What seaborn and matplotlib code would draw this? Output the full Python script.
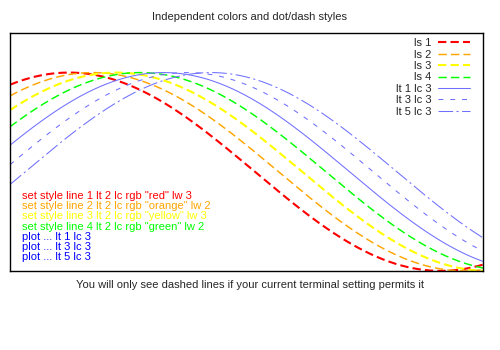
import numpy as np
import pandas as pd
import matplotlib
matplotlib.use("Agg")
import matplotlib.pyplot as plt
import seaborn as sns

# Curve definitions: y = cos(x - shift)
labels = ["ls 1", "ls 2", "ls 3", "ls 4", "lt 1 lc 3", "lt 3 lc 3", "lt 5 lc 3"]
phase_shifts = [0.0, 0.2, 0.4, 0.6, 0.8, 1.0, 1.2]
line_colors = ["#ff0000", "#ffa500", "#ffff00", "#00ff00", "#6f6fff", "#6f6fff", "#6f6fff"]
line_widths = [1.5, 1.05, 1.5, 1.05, 0.75, 0.75, 0.75]
dash_styles = [
    (0, (6.0, 3.0)),
    (0, (6.0, 3.0)),
    (0, (6.0, 3.0)),
    (0, (6.0, 3.0)),
    "solid",
    (0, (3.5, 5.0)),
    (0, (10.5, 2.5, 1.5, 2.5)),
]

x_range = (-0.5, 3.5)
y_range = (-1.0, 1.4)

note_lines = [
    'set style line 1 lt 2 lc rgb "red" lw 3',
    'set style line 2 lt 2 lc rgb "orange" lw 2',
    'set style line 3 lt 2 lc rgb "yellow" lw 3',
    'set style line 4 lt 2 lc rgb "green" lw 2',
    "plot ... lt 1 lc 3",
    "plot ... lt 3 lc 3",
    "plot ... lt 5 lc 3",
]
note_colors = ["#ff0000", "#ffa500", "#ffff00", "#00ff00", "#0000ff", "#0000ff", "#0000ff"]

title = "Independent colors and dot/dash styles"
footer = "You will only see dashed lines if your current terminal setting permits it"

sns.set_style("white")
plt.rcParams["font.family"] = ["Liberation Sans", "DejaVu Sans"]
plt.rcParams["lines.scale_dashes"] = False

# Sample the functions over the plotted x range
xs = np.linspace(x_range[0], x_range[1], 600)
frames = []
for lab, shift in zip(labels, phase_shifts):
    frames.append(pd.DataFrame({"x": xs, "y": np.cos(xs - shift), "series": lab}))
df = pd.concat(frames, ignore_index=True)

fig = plt.figure(figsize=(5.0, 3.5), dpi=100)
ax = fig.add_axes([0.02, 0.226, 0.946, 0.68])

for lab, col, lw, ls in zip(labels, line_colors, line_widths, dash_styles):
    sns.lineplot(
        data=df[df["series"] == lab], x="x", y="y",
        color=col, linewidth=lw, linestyle=ls, label=lab,
        estimator=None, sort=False, ax=ax,
    )

ax.set_xlim(*x_range)
ax.set_ylim(*y_range)
ax.set_xticks([])
ax.set_yticks([])
ax.set_xlabel("")
ax.set_ylabel("")
for sp in ax.spines.values():
    sp.set_visible(True)
    sp.set_color("black")
    sp.set_linewidth(1.0)

leg = ax.legend(
    loc="upper right", bbox_to_anchor=(0.9725, 0.978), frameon=False,
    markerfirst=False, fontsize=8, handlelength=2.9, handletextpad=0.55,
    labelspacing=0.13, borderpad=0, borderaxespad=0,
)

line_step = 10.2 / 238.0
for i, (txt, col) in enumerate(zip(note_lines, note_colors)):
    ax.text(0.025, 0.315 - i * line_step, txt, color=col, fontsize=8,
            ha="left", va="center", transform=ax.transAxes)

fig.text(0.5, 1 - 17 / 350, title, ha="center", va="center", fontsize=8)
fig.text(0.5, 1 - 285 / 350, footer, ha="center", va="center", fontsize=8)

fig.savefig("out.png", dpi=100)
